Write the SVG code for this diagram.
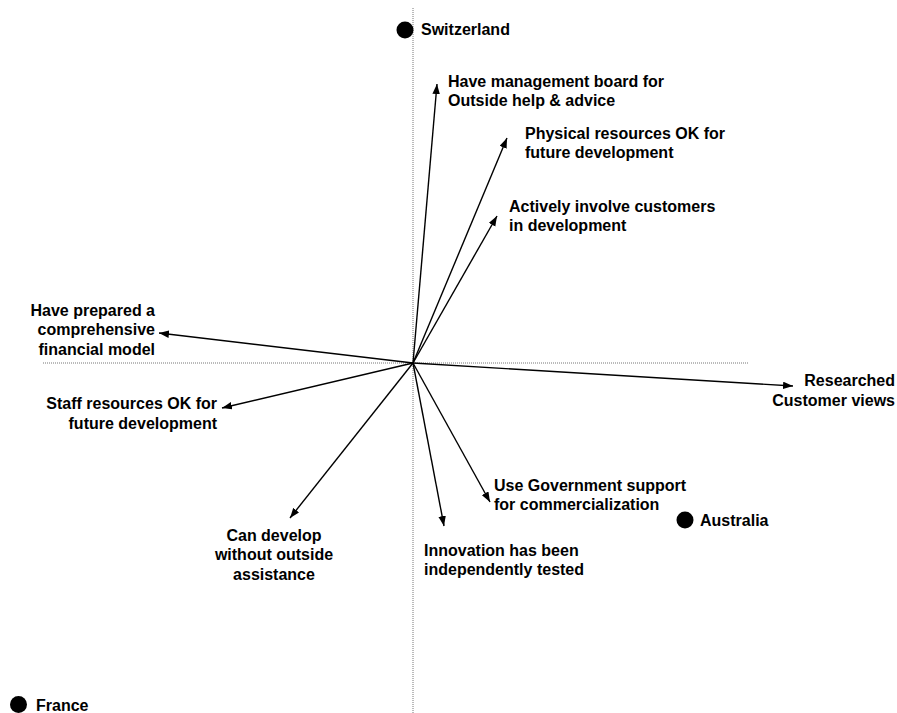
<svg xmlns="http://www.w3.org/2000/svg" width="897" height="713" viewBox="0 0 897 713">
<style>
.t{font-family:"Liberation Sans",Arial,sans-serif;font-weight:bold;font-size:16px;fill:#000}
.e{text-anchor:end}
.m{text-anchor:middle}
.ax{stroke:#777;stroke-width:1;stroke-dasharray:1,1;fill:none}
.ar{stroke:#000;stroke-width:1.4;fill:none;marker-end:url(#ah)}
.dot{fill:#000}
</style>
<defs>
<marker id="ah" markerUnits="userSpaceOnUse" markerWidth="11" markerHeight="8" refX="10" refY="3.75" orient="auto">
<path d="M0,0 L10,3.75 L0,7.5 z" fill="#000"/>
</marker>
</defs>
<rect width="897" height="713" fill="#fff"/>
<g id="axes">
<line class="ax" x1="413" y1="8" x2="413" y2="713"/>
<line class="ax" x1="43" y1="363" x2="749" y2="363"/>
</g>
<g id="connectors">
<line class="ar" x1="413" y1="363" x2="437" y2="84"/>
<line class="ar" x1="413" y1="363" x2="507" y2="138"/>
<line class="ar" x1="413" y1="363" x2="497" y2="216"/>
<line class="ar" x1="413" y1="363" x2="159" y2="333"/>
<line class="ar" x1="413" y1="363" x2="793" y2="386"/>
<line class="ar" x1="413" y1="363" x2="222" y2="408"/>
<line class="ar" x1="413" y1="363" x2="290" y2="518"/>
<line class="ar" x1="413" y1="363" x2="444" y2="526"/>
<line class="ar" x1="413" y1="363" x2="490" y2="502"/>
</g>
<g id="switzerland">
<circle class="dot" cx="405" cy="30" r="8.5"/>
<text class="t" x="421" y="35">Switzerland</text>
</g>
<g id="australia">
<circle class="dot" cx="685" cy="520" r="8.5"/>
<text class="t" x="700" y="526">Australia</text>
</g>
<g id="france">
<circle class="dot" cx="18.5" cy="704.5" r="8.5"/>
<text class="t" x="36" y="711">France</text>
</g>
<g id="management-board">
<text class="t" x="448" y="87">Have management board for</text>
<text class="t" x="448" y="106">Outside help &amp; advice</text>
</g>
<g id="physical-resources">
<text class="t" x="525" y="139">Physical resources OK for</text>
<text class="t" x="525" y="158">future development</text>
</g>
<g id="actively-involve">
<text class="t" x="509" y="212">Actively involve customers</text>
<text class="t" x="509" y="231">in development</text>
</g>
<g id="financial-model">
<text class="t e" x="155" y="316">Have prepared a</text>
<text class="t e" x="155" y="335">comprehensive</text>
<text class="t e" x="155" y="355">financial model</text>
</g>
<g id="staff-resources">
<text class="t e" x="217" y="409">Staff resources OK for</text>
<text class="t e" x="217" y="429">future development</text>
</g>
<g id="researched">
<text class="t e" x="895" y="386">Researched</text>
<text class="t e" x="895" y="406">Customer views</text>
</g>
<g id="government-support">
<text class="t" x="494" y="491">Use Government support</text>
<text class="t" x="494" y="510">for commercialization</text>
</g>
<g id="innovation-tested">
<text class="t" x="424" y="556">Innovation has been</text>
<text class="t" x="424" y="575">independently tested</text>
</g>
<g id="can-develop">
<text class="t m" x="274" y="541">Can develop</text>
<text class="t m" x="274" y="560">without outside</text>
<text class="t m" x="274" y="580">assistance</text>
</g>
</svg>
